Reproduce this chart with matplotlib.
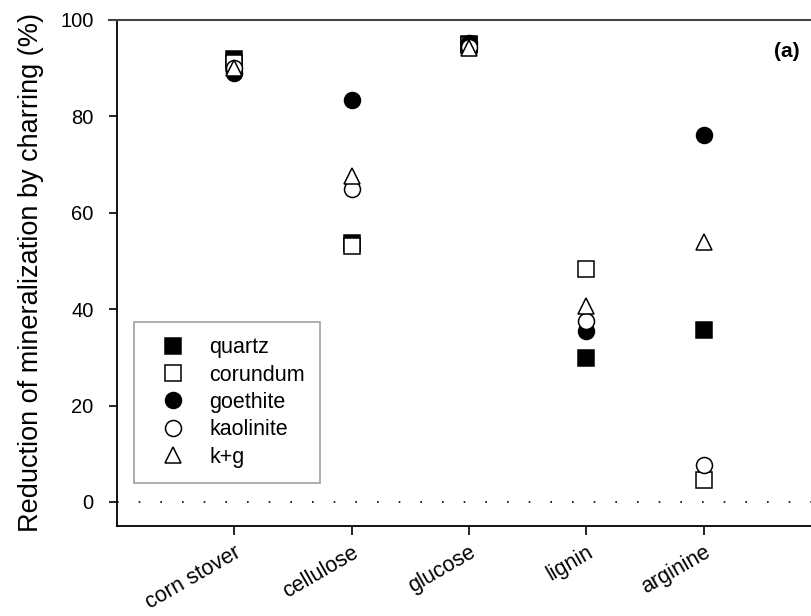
import matplotlib
matplotlib.use("Agg")
import matplotlib.pyplot as plt
import numpy as np

plt.rcParams['font.family'] = ['Liberation Sans', 'DejaVu Sans']

categories = ["corn stover", "cellulose", "glucose", "lignin", "arginine"]
quartz    = [92.0, 53.7, 95.0, 29.9, 35.7]
corundum  = [91.0, 53.0, 94.8, 48.3, 4.6]
goethite  = [88.9, 83.4, 95.3, 35.4, 76.2]
kaolinite = [90.0, 65.0, 94.5, 37.5, 7.6]
kg        = [90.0, 67.6, 94.2, 40.7, 54.0]
yticks = [0, 20, 40, 60, 80, 100]

fig = plt.figure(figsize=(8.12, 6.16), dpi=100)
ax = fig.add_axes([117/812, 90/616, (821-117)/812, (526-20)/616])

x = np.arange(1, len(categories) + 1)
ms = 11.5
series = [
    ("quartz", quartz, dict(marker='s', mfc='black', mec='black')),
    ("corundum", corundum, dict(marker='s', mfc='white', mec='black')),
    ("goethite", goethite, dict(marker='o', mfc='black', mec='black')),
    ("kaolinite", kaolinite, dict(marker='o', mfc='white', mec='black')),
    ("k+g", kg, dict(marker='^', mfc='white', mec='black')),
]
for name, vals, st in series:
    ax.plot(x, vals, linestyle='none', markersize=ms, markeredgewidth=1.1,
            label=name, **st)

ax.axhline(0, color='black', linewidth=1.2, linestyle=(0, (1, 12)), zorder=0)

ax.set_xlim(0, 6)
ax.set_ylim(-5, 100)
ax.set_yticks(yticks)
ax.set_xticks(x)
ax.set_xticklabels(categories, rotation=30, ha='right', rotation_mode='anchor',
                   fontsize=15.5)
ax.tick_params(axis='y', direction='out', length=6, width=1.2, labelsize=14.5, pad=11)
ax.tick_params(axis='x', direction='out', length=6.5, width=1.2, pad=5)
for s in ['left', 'bottom']:
    ax.spines[s].set_linewidth(1.3)
ax.spines['top'].set_visible(False)
ax.spines['right'].set_visible(False)
# top frame line (grey), extending over the 100 tick
ax.plot([-8/704, 1.0], [1.0, 1.0], transform=ax.transAxes, color='#444444',
        linewidth=1.5, clip_on=False, zorder=5)

ax.set_ylabel("Reduction of mineralization by charring (%)", fontsize=19.5)
ax.yaxis.set_label_coords((44 - 117) / 704, 0.5)

ax.text(5.706, 93.4, "(a)", fontsize=15, fontweight='bold', ha='center', va='center')

leg = ax.legend(loc='lower left', bbox_to_anchor=((134-117)/704, (526-483)/506),
                frameon=True, fancybox=False, fontsize=15.5, handletextpad=0.6,
                labelspacing=0.3, borderpad=0.7, borderaxespad=0, handlelength=2.2)
leg.get_frame().set_edgecolor('#888888')
leg.get_frame().set_linewidth(1.2)

fig.savefig("out.png", dpi=100)
